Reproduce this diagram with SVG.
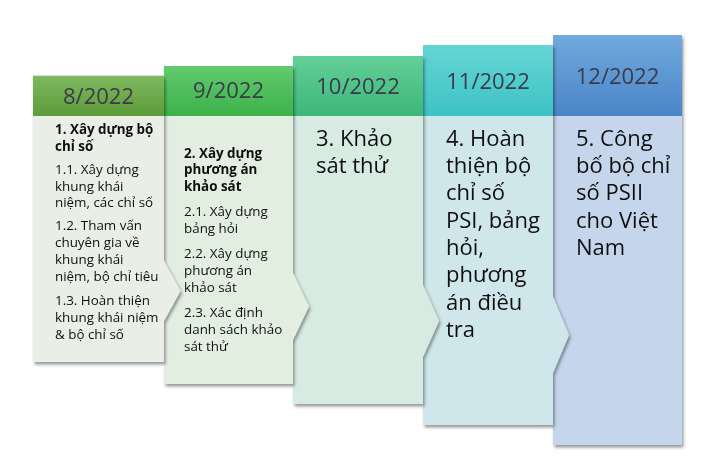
<svg xmlns="http://www.w3.org/2000/svg" width="714" height="475" viewBox="0 0 714 475">
<style>
.hd{font-family:"Open Sans","Liberation Sans",sans-serif;font-size:22px;fill:#3a3a4c;text-anchor:middle}
.sm{font-family:"Open Sans","Liberation Sans",sans-serif;font-size:13.4px;fill:#111}
.smb{font-family:"Open Sans","Liberation Sans",sans-serif;font-size:13.4px;fill:#111;font-weight:bold}
.lg{font-family:"Open Sans","Liberation Sans",sans-serif;font-size:22px;fill:#111}
.col{filter:url(#sh)}
</style>
<defs>
<filter id="sh" x="-10%" y="-10%" width="125%" height="125%">
<feDropShadow dx="1.5" dy="2.5" stdDeviation="1.8" flood-color="#000" flood-opacity="0.4"/>
</filter>
<linearGradient id="g1" x1="0" y1="0" x2="0" y2="1"><stop offset="0" stop-color="#7fb961"/><stop offset="1" stop-color="#5d9b39"/></linearGradient>
<linearGradient id="g2" x1="0" y1="0" x2="0" y2="1"><stop offset="0" stop-color="#62cb6d"/><stop offset="1" stop-color="#3cb24a"/></linearGradient>
<linearGradient id="g3" x1="0" y1="0" x2="0" y2="1"><stop offset="0" stop-color="#63cf98"/><stop offset="1" stop-color="#3db778"/></linearGradient>
<linearGradient id="g4" x1="0" y1="0" x2="0" y2="1"><stop offset="0" stop-color="#66d5d3"/><stop offset="1" stop-color="#3dc2c6"/></linearGradient>
<linearGradient id="g5" x1="0" y1="0" x2="0" y2="1"><stop offset="0" stop-color="#72a9de"/><stop offset="1" stop-color="#4985c7"/></linearGradient>
</defs>

<g id="connectors"></g>

<g id="col5" class="col">
<path d="M553,116 H682 V445 H553 Z" fill="#c5d5eb"/>
<rect x="553" y="35" width="129" height="81" fill="url(#g5)"/>
<text class="hd" x="617.5" y="83.5">12/2022</text>
<text class="lg" x="576" y="145.5">5. Công</text>
<text class="lg" x="576" y="173">bố bộ chỉ</text>
<text class="lg" x="576" y="200.3">số PSII</text>
<text class="lg" x="576" y="227.7">cho Việt</text>
<text class="lg" x="576" y="255">Nam</text>
</g>

<g id="col4" class="col">
<path d="M423,116 H553 V297 L569,335 L553,373 V425 H423 Z" fill="#cfe7ea"/>
<rect x="423" y="45" width="130" height="71" fill="url(#g4)"/>
<text class="hd" x="488" y="88.5">11/2022</text>
<text class="lg" x="446" y="145.5">4. Hoàn</text>
<text class="lg" x="446" y="173">thiện bộ</text>
<text class="lg" x="446" y="200.3">chỉ số</text>
<text class="lg" x="446" y="227.7">PSI, bảng</text>
<text class="lg" x="446" y="255">hỏi,</text>
<text class="lg" x="446" y="282.4">phương</text>
<text class="lg" x="446" y="309.8">án điều</text>
<text class="lg" x="446" y="337.2">tra</text>
</g>

<g id="col3" class="col">
<path d="M293,116 H423 V285 L439,321 L423,357 V404 H293 Z" fill="#d7ebe2"/>
<rect x="293" y="56" width="130" height="60" fill="url(#g3)"/>
<text class="hd" x="358" y="94">10/2022</text>
<text class="lg" x="316" y="145.5">3. Khảo</text>
<text class="lg" x="316" y="173">sát thử</text>
</g>

<g id="col2" class="col">
<path d="M164,116 H293 V273 L309,306.5 L293,340 V384 H164 Z" fill="#e1eee0"/>
<rect x="164" y="66" width="129" height="50" fill="url(#g2)"/>
<text class="hd" x="228.5" y="98">9/2022</text>
<text class="smb" x="184" y="157.5">2. Xây dựng</text>
<text class="smb" x="184" y="174.3">phương án</text>
<text class="smb" x="184" y="191">khảo sát</text>
<text class="sm" x="184" y="216">2.1. Xây dựng</text>
<text class="sm" x="184" y="232.8">bảng hỏi</text>
<text class="sm" x="184" y="258.3">2.2. Xây dựng</text>
<text class="sm" x="184" y="275">phương án</text>
<text class="sm" x="184" y="291.7">khảo sát</text>
<text class="sm" x="184" y="317.3">2.3. Xác định</text>
<text class="sm" x="184" y="334">danh sách khảo</text>
<text class="sm" x="184" y="350.7">sát thử</text>
</g>

<g id="col1" class="col">
<path d="M33,116 H164 V261 L180.5,291 L164,321 V362 H33 Z" fill="#e9eee6"/>
<rect x="33" y="75.7" width="131" height="40.3" fill="url(#g1)"/>
<text class="hd" x="98.5" y="104">8/2022</text>
<text class="smb" x="55" y="134">1. Xây dựng bộ</text>
<text class="smb" x="55" y="150.7">chỉ số</text>
<text class="sm" x="55" y="174">1.1. Xây dựng</text>
<text class="sm" x="55" y="190.7">khung khái</text>
<text class="sm" x="55" y="207.3">niệm, các chỉ số</text>
<text class="sm" x="55" y="230">1.2. Tham vấn</text>
<text class="sm" x="55" y="247">chuyên gia về</text>
<text class="sm" x="55" y="264">khung khái</text>
<text class="sm" x="55" y="281">niệm, bộ chỉ tiêu</text>
<text class="sm" x="55" y="305">1.3. Hoàn thiện</text>
<text class="sm" x="55" y="322">khung khái niệm</text>
<text class="sm" x="55" y="338.5">&amp; bộ chỉ số</text>
</g>
</svg>
